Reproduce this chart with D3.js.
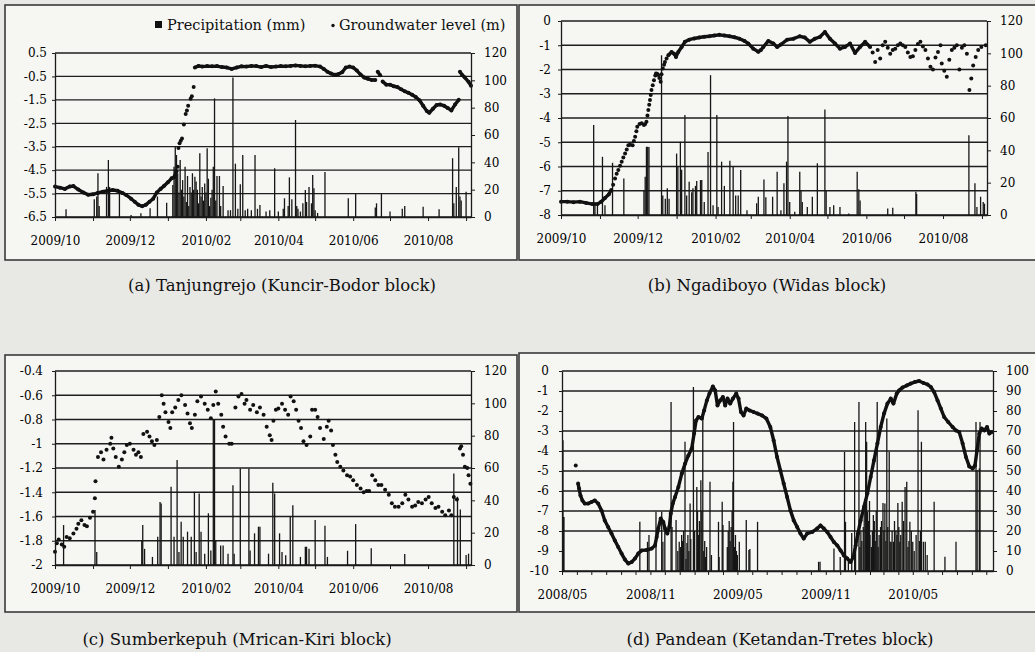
<!DOCTYPE html>
<html>
<head>
<style>
  body { margin: 0; background: #e8e8e5; }
  svg { display: block; font-family: "DejaVu Serif", serif; }
  .axis path, .axis line { stroke: #1a1a1a; }
  .axis text { font-size: 12px; fill: #000; font-family: "DejaVu Serif", serif; }
</style>
<script src="https://cdn.jsdelivr.net/npm/d3@7"></script>
</head>
<body>
<svg id="figure" width="1035" height="652"></svg>
<script>

// ---- data: [day since axis start, value] ----
// null breaks the connecting line (dots only there)
const levelA = [[0,-5.2],[4,-5.25],[8,-5.3],[12,-5.2],[15,-5.18],[19,-5.33],[23,-5.45],[27,-5.55],[31,-5.53],[35,-5.47],
  [39,-5.42],[43,-5.38],[47,-5.35],[51,-5.38],[55,-5.48],[58,-5.56],[62,-5.72],[65,-5.85],[68,-5.98],[71,-6.04],[74,-5.98],
  [77,-5.85],[80,-5.72],[83,-5.45],[86,-5.3],[89,-5.17],[92,-5.02],[95,-4.85],[97,-4.8],[99,-4.55],null,
  [100,-4.35],null,[100.6,-3.55],null,[101.5,-3.35],null,[102.5,-3.25],null,[103.5,-3.15],null,[105,-2.55],null,[106.5,-2.1],null,
  [107.5,-1.95],null,[108.5,-1.75],null,[110.5,-1.45],null,[111.5,-1.35],null,[113,-0.95],null,
  [114,-0.12],[117,-0.05],[120,-0.08],[124,-0.06],[128,-0.07],[132,-0.06],[136,-0.1],[140,-0.12],[144,-0.18],[148,-0.12],
  [152,-0.07],[156,-0.08],[160,-0.05],[164,-0.06],[168,-0.1],[172,-0.05],[176,-0.1],[180,-0.08],[184,-0.06],[188,-0.07],
  [192,-0.05],[196,-0.03],[200,-0.05],[204,-0.07],[208,-0.05],[212,-0.04],[216,-0.08],[219,-0.18],[222,-0.3],[225,-0.38],
  [228,-0.43],[231,-0.4],[234,-0.32],[237,-0.12],[240,-0.08],[243,-0.12],[246,-0.25],[249,-0.42],[252,-0.55],[255,-0.6],
  [258,-0.65],[261,-0.65],null,[263,-0.3],[265,-0.45],null,[267,-0.72],[270,-0.85],[273,-0.85],[276,-0.92],[279,-0.95],
  [282,-1.05],[285,-1.13],[288,-1.2],[291,-1.28],[294,-1.38],[297,-1.52],[300,-1.75],[303,-1.98],[305,-2.05],[308,-1.88],
  [311,-1.72],[314,-1.7],[317,-1.75],[320,-1.85],[323,-1.95],[326,-1.7],[329,-1.5],null,[330,-0.3],[332,-0.45],[334,-0.55],
  [337,-0.73],[339,-0.9]];

const rainA = [[9,5.6],[32,13],[34,15],[35,32],[36,8],[42,22],[43.5,41.7],[44.5,22],[52.5,17],[62,1.5],[70,2.7],[77.5,6.4],
  [83.5,15],[91,10.5],[96,23.4],[97,36.8],[98,51.4],[99,45.4],[100,32],[101,18],[102,41.7],[103,20],[104,27],[105,15],
  [106,36.8],[107,11],[108,30],[109,8],[110,22],[111,18],[112,32],[113,20],[114,29.5],[115,26],[116,20],[117,10],
  [118,46.6],[119,15],[120,22],[121,12],[122,24.6],[123,18],[124,50.3],[125,28],[126,8],[127,14],[128,20],[129,36.8],
  [130,86.8],[131,12],[132,30],[134,30],[135,8],[137,22.7],[141,5],
  [143,5],[145,102],[147,39],[149,6],[151,24],[153,45.4],[155,5],[157,6],[160,5],[163,45.4],[165,6],[167,8.8],[172,4],
  [175,5],[179,35.6],[182,4],[186,6],[187,13.7],[190,8],[191,29],[193,13],[196,71],[197,8],[198,6],[200,4],[202,10],
  [204,19.7],[205,11],[207,22],[209,10],[210,30.7],[211,21],[212,5],[214,3],[220,33],[239,13.7],[245,16.8],[261,7],
  [262,10],[266,16.8],[273,4],[283,6],[285,8],[300,7.5],[313,5.6],[324,43],[325,10],[327,22],[329,51],[330,15],[331,12],
  [335,18.5]];

const levelB = [[0,-7.45],[5,-7.45],[10,-7.47],[15,-7.45],[20,-7.5],[25,-7.55],[29,-7.55],[32,-7.45],[35,-7.3],[38,-7.15],
  [40,-6.97],null,[41.5,-6.75],null,[43,-6.49],null,[44.3,-6.3],null,[45.6,-6.14],null,[47,-5.97],null,[48.3,-5.8],null,
  [49.6,-5.63],null,[51,-5.46],null,[52.3,-5.3],null,[53.6,-5.12],null,[55,-5.1],null,[57,-5.12],null,[58,-4.95],null,
  [59,-4.77],null,[60,-4.55],null,[60.7,-4.36],null,[62.5,-4.25],null,[64.2,-4.22],null,[66,-4.29],null,[67,-4.25],null,
  [68,-4.15],null,[68.8,-3.9],null,[69.5,-3.67],null,[70.2,-3.45],null,[70.8,-3.26],null,[71.4,-3.05],null,[72,-2.85],null,
  [73,-2.65],null,[74,-2.44],null,[75,-2.25],null,[75.6,-2.16],null,[76.5,-2.18],null,[77.4,-2.23],null,[78.3,-2.35],null,
  [79.3,-2.51],null,[80,-2.2],null,[81,-1.96],null,[82,-1.8],null,[82.7,-1.69],null,[84,-1.55],null,
  [85.4,-1.41],[88,-1.28],[90,-1.35],[91.5,-1.48],[93.3,-1.28],[96,-1.07],[98.6,-0.86],[102,-0.77],[106,-0.72],[110,-0.68],
  [114,-0.65],[118,-0.63],[122,-0.6],[126,-0.57],[130,-0.6],[134,-0.63],[138,-0.67],[142,-0.73],[146,-0.82],[149,-0.93],
  [153,-1.14],[157,-1.27],[159,-1.2],[161,-1.07],[165,-0.82],[169,-0.93],[172,-1.07],[175,-0.97],[180,-0.77],[185,-0.73],
  [190,-0.63],[194,-0.68],[198,-0.86],[202,-0.73],[206,-0.66],[210,-0.45],[214,-0.73],[218,-0.93],[222,-1.14],[226,-1.07],
  [230,-0.93],[234,-1.32],[238,-1.07],[242,-0.86],[246,-1.07],null,
  [248,-1.3],null,[250,-1.69],null,[252,-1.2],null,[254,-1.55],null,[256,-1.0],null,[258,-0.86],null,[260,-1.1],null,
  [262,-1.35],null,[264,-1.2],null,[266,-1.14],null,[268,-1.0],null,[270,-0.93],null,[272,-1.0],null,[274,-1.07],null,
  [276,-1.3],null,[278,-1.48],null,[280,-1.45],null,[282,-1.2],null,[284,-0.95],null,[286,-0.86],null,[288,-1.05],null,
  [290,-1.2],null,[292,-1.55],null,[294,-1.89],null,[296,-2.0],null,[298,-1.5],null,[300,-1.28],null,[302,-1.0],null,
  [303,-1.75],null,[305,-2.05],null,[307,-2.3],null,[309,-1.6],null,[311,-1.2],null,[313,-1.1],null,[315,-1.0],null,
  [317,-2.0],null,[319,-1.1],null,[321,-1.0],null,[323,-1.35],null,[325,-2.85],null,[326.5,-2.37],null,[328,-1.83],null,
  [330,-1.48],null,[332,-1.2],null,[334.5,-1.07],null,[338,-1.0]];

const rainB = [[26,55.6],[27,8],[29,6],[33,36],[35,6],[41,32.3],[50,22.6],[66,15],[67,23.7],[68,42.2],[69,42.2],[70,42],
  [80,98.8],[81,12],[83,10],[84.6,16.5],[86,10],[92,38],[93,30],[95,45.3],[96,28],[98.6,61.8],[100,12],[102,20.6],[104,14],
  [105,16.5],[107,18],[108,21],[111,21.6],[112,21.6],[114,8],[117,39],[119,86.5],[121,6],[124,61.8],[125,5],[127.8,33],
  [130,18],[134.4,33.5],[137,30],[139,12],[141,12],[143,27.8],[148,3],[155.7,7.2],[157,11.3],[161.5,22],[163,11],
  [168.4,11.3],[172,26.7],[175,3],[177.4,19.6],[179.5,33],[180.6,61.2],[182,8],[186,2],[190,26.7],[191,15],[192,8],
  [196,5],[200,11.3],[204,32],[210,65.3],[211,15],[214,5],[217,6],[222,5],[229,1],[235.7,26.7],[237,16],[238,9],[260,4],
  [264,4.5],[282.4,14.4],[283,13],[324.6,49.4],[329.4,19.6],[331,5],[333.9,11.3],[336,8],[337,7]];

const levelC = [[0,-1.89],[1.5,-1.82],[3,-1.79],[5.5,-1.83],[7.5,-1.85],[9.5,-1.77],[12,-1.78],[15,-1.74],[17.5,-1.7],
  [19,-1.66],[21.5,-1.63],[24,-1.67],[26,-1.68],[28.5,-1.61],[31,-1.56],[32.5,-1.45],[33,-1.31],[35,-1.11],[37.5,-1.07],
  [39.5,-1.13],[42,-1.05],[45,-1.0],[46,-0.95],[47.5,-1.04],[49.5,-1.11],[52,-1.19],[54.5,-1.13],[56.5,-1.07],[58.5,-1.01],
  [61,-1.0],[64,-1.05],[66,-1.09],[68,-1.07],[70,-1.11],[72,-0.92],[75,-0.9],[77,-0.94],[79,-0.98],[81,-1.01],[83,-0.97],
  [85,-0.78],[87,-0.6],[88.5,-0.67],[90,-0.74],[92.5,-0.82],[94,-0.87],[95.5,-0.74],[98,-0.7],[100.5,-0.64],[103,-0.6],
  [106,-0.68],[108,-0.75],[110,-0.83],[111.5,-0.87],[114,-0.76],[116,-0.65],[119,-0.61],[122,-0.67],[124.5,-0.72],
  [127,-0.79],[129,-0.68],[131,-0.57],[133,-0.67],[135.5,-0.76],[137,-0.86],[139,-0.94],[142,-1.0],[144,-1.0],[147,-0.7],
  [149.5,-0.61],[152,-0.59],[154.5,-0.67],[156,-0.64],[159,-0.72],[161.5,-0.68],[164.5,-0.74],[167,-0.7],[170,-0.76],
  [172.5,-0.86],[175,-0.93],[176.5,-0.97],[178,-0.81],[180,-0.72],[182,-0.71],[185,-0.67],[187.5,-0.72],[190,-0.76],
  [192,-0.61],[194.5,-0.65],[196.5,-0.72],[198.5,-0.81],[200.5,-0.87],[202.5,-0.98],[205,-1.01],[208,-0.94],[209.5,-0.72],
  [212,-0.72],[214,-0.78],[216,-0.87],[219,-0.96],[221.5,-0.86],[223,-0.81],[225,-0.89],[226.5,-1.01],[228.5,-1.09],
  [230,-1.15],[232.5,-1.19],[235,-1.22],[238,-1.26],[240.5,-1.27],[243,-1.3],[246,-1.34],[249,-1.37],[251.5,-1.4],
  [254,-1.39],[256,-1.39],[258.5,-1.26],[261,-1.3],[263.5,-1.34],[266,-1.34],[269,-1.38],[272,-1.42],[274.5,-1.49],
  [277,-1.52],[280,-1.52],[283,-1.49],[285.5,-1.42],[288,-1.46],[291,-1.52],[293.5,-1.51],[296,-1.48],[299,-1.49],
  [302,-1.46],[304.5,-1.44],[307,-1.49],[310,-1.53],[312.5,-1.52],[315.5,-1.56],[318,-1.59],[321,-1.55],[323,-1.59],
  [325,-1.44],[327.5,-1.46],[330,-1.04],[331,-1.02],[332.5,-1.09],[334,-1.19],[336,-1.2],[337,-1.26],[338.5,-1.33]];

const rainC = [[7,24.7],[32.6,34],[34,8],[70.7,15.4],[71.5,24.7],[73,10],[79.4,5],[83.7,17.5],[85.6,39],[86.5,38],
  [94.6,48.4],[97,17.5],[99.5,64.9],[101,8],[102.8,26.7],[104.5,17.5],[108,20.6],[111,17.5],[113.6,45.3],[115,8],
  [117.5,44.3],[119,20.6],[122,7],[125,32],[127,9],[129,90],[130,90],[131,15],[135,12],[137,12],[141,7],[145,49.4],
  [146,7],[151,59.7],[158,59.7],[159,9],[162.6,19.6],[165.8,23.7],[167,23.7],[174,7],[177.5,50.8],[179,44.3],[183,19.6],
  [185,8],[188,6],[191.7,29.8],[193.8,37],[200,5],[204,11.3],[205,11.3],[207,10],[212,27.8],[220,24.3],[222,5],
  [238.4,8.8],[245,25.3],[257.7,10.3],[285,6.8],[325,56.6],[328,42.2],[330.3,34.4],[335,6.2],[337,7]];

const levelD = [[28.6,-4.72],null,[33.5,-5.63],[35.5,-5.88],[38.4,-6.22],[42.5,-6.47],[47.4,-6.63],[54.3,-6.63],
  [61.4,-6.55],[68.3,-6.47],[75.2,-6.63],[82.3,-6.97],[89,-7.47],[96,-7.8],[103,-8.13],[110,-8.47],[117,-8.8],[124,-9.13],
  [131,-9.43],[138,-9.63],[145,-9.55],[151.8,-9.38],[158.7,-9.13],[165.7,-8.97],[176,-8.95],[186.6,-8.88],[193.5,-8.72],
  [197,-8.3],[200.4,-7.88],[205.4,-7.38],[210.9,-7.55],[214.4,-7.88],[219.2,-8.13],[223.4,-7.8],[226.3,-7.13],[230.5,-6.63],
  [235.3,-6.3],[242.2,-5.8],[249.3,-5.13],[256.2,-4.63],[263,-4.22],[270,-3.88],[274.9,-3.13],[279,-2.47],[284,-2.3],
  [291,-2.38],[295.8,-1.97],[301.5,-1.47],[306.9,-1.13],[314,-0.77],[318.8,-0.97],[323.6,-1.72],[329.2,-1.47],[334.8,-1.3],
  [339.6,-1.72],[344.5,-1.38],[350,-1.63],[355.7,-1.38],[362.6,-1.13],[367.4,-1.38],[372.4,-2.05],[377.9,-2.22],
  [383.5,-1.88],[390.4,-1.97],[398.7,-2.05],[407,-2.13],[416.3,-2.22],[425.3,-2.38],[433.6,-2.8],[440.5,-3.47],
  [447.6,-4.3],[454.5,-4.97],[461.4,-5.63],[468.5,-6.3],[475.4,-6.97],[482.3,-7.47],[489.4,-7.8],[496.2,-8.13],
  [503.1,-8.38],[510.2,-8.13],[520.7,-8.05],[531,-7.88],[538,-7.72],[545,-7.88],[552,-8.05],[558.9,-8.3],[565.8,-8.55],
  [572.9,-8.72],[579.8,-8.97],[586.6,-9.22],[593.7,-9.38],[600.6,-9.55],[606.3,-9.3],[611.1,-8.72],[615.9,-8.13],
  [621.5,-7.47],[628.4,-6.8],[635.5,-6.13],[642.4,-5.3],[649.3,-4.47],[656.4,-3.63],[663.3,-2.8],[670.2,-2.13],
  [677.3,-1.63],[684.2,-1.38],[689.8,-1.63],[696.7,-1.13],[701.5,-0.97],[708.6,-0.83],[717.5,-0.72],[725.9,-0.63],
  [734.2,-0.55],[743.2,-0.5],[752.4,-0.6],[760.7,-0.67],[767.6,-0.8],[774.5,-1.05],[781.6,-1.47],[788.5,-1.88],
  [795.4,-2.3],[803.8,-2.55],[812.9,-2.8],[819.8,-2.97],[826.7,-3.05],[833.8,-3.63],[840.7,-4.3],[847.6,-4.77],
  [854.7,-4.88],[859.5,-4.72],[863.7,-3.97],[868.5,-3.13],[873.5,-2.88],[879,-2.97],[884.6,-2.8],[889.4,-3.13],[894.4,-3.05]];

const rainD = [[2,65.4],[3,27],[4,27],[162,24.6],[178,14.6],[181,18],[195.6,29.6],[207.5,29.6],[210,14.6],[214,20],
  [227,84.5],[229,22],[237.4,25.5],[241,10],[244,14.6],[247,12],[249,18],[251,15],[253,20],[256,64.6],[258,6],[260,14],
  [262,18],[264,10],[266.6,33.8],[268,16],[273.5,92],[276,20],[280.6,42],[282,30],[284,18],[286,25],
  [289,45.4],[291,30],[293,80.4],[295,10],[297,15],[299,7],[301,12],[308,44.6],[311,8],[325.7,24.6],[327,7],[333.4,34.6],
  [335,23],[344,12],[346,20],[348,25],[350,15],[352,22],[354,30],
  [355.7,44.6],[357,74.5],[359,12],[361,18],[363,10],[365,8],[369,14.6],[383.5,25.5],[389,10.5],[391,11],[407,24.6],
  [534,4.6],[537,4.6],[566,11.3],
  [579,7],[588,59.6],[590,24.6],[596,5],[603,19],[609,74.5],[611,12],[618,84.5],[620,12],[622,20],[624,15],[627,22],
  [629,30],[632,74.5],[634,64.6],[636,29.6],[638,25],[640,35],[641,18],[644,12],[646,20],[648,28],[650,25],[652,15],
  [654,30],[656,84.5],[658,12],[660,18],[663,22],[665,25],[668,34],[670,20],[672,33.8],[674,15],[676,76.2],[678,22],
  [681,59.6],[683,14.6],[685,14.6],[687,20],[690,14.6],[692,25],[695,20],[697,18],[699,34],[701,22],[703,14.6],[705,18],
  [708,34.6],[711,25],[714,42],[717.5,44.6],[720,12],[722,15],[724,24.6],[727,20],[730,14.6],[733,10],[737,18],[741,80.4],
  [744,15],[746,20],[748,64.6],[752,14.6],[756,14.6],[760,8],[774.5,34.6],[797,7.1],[820,14.6],[861.6,74.5],
  [864,50.4],[868.5,51.3],[870,74.5]];

// tick labels
const levelTicksA = [0.5, -0.5, -1.5, -2.5, -3.5, -4.5, -5.5, -6.5];
const levelTicksB = [0, -1, -2, -3, -4, -5, -6, -7, -8];
const levelTicksC = [-0.4, -0.6, -0.8, -1, -1.2, -1.4, -1.6, -1.8, -2];
const levelTicksD = [0, -1, -2, -3, -4, -5, -6, -7, -8, -9, -10];
const rainTicks120 = [0, 20, 40, 60, 80, 100, 120];
const rainTicks100 = [0, 10, 20, 30, 40, 50, 60, 70, 80, 90, 100];
const monthLabels1 = ["2009/10", "2009/12", "2010/02", "2010/04", "2010/06", "2010/08"];
const monthLabels2 = ["2008/05", "2008/11", "2009/05", "2009/11", "2010/05"];
const captions = ["(a) Tanjungrejo (Kuncir-Bodor block)", "(b) Ngadiboyo (Widas block)",
  "(c) Sumberkepuh (Mrican-Kiri block)", "(d) Pandean (Ketandan-Tretes block)"];
const legendLabels = ["Precipitation (mm)", "Groundwater level (m)"];

// ---- layout of the four panels ----
let panels = [
  { level: levelA, rain: rainA, levelTicks: levelTicksA, rainTicks: rainTicks120, months: monthLabels1, caption: captions[0],
    start: "2009-10-01", end: "2010-09-05", left: 55, right: 471, top: 53, bottom: 217,
    frame: [5, 5, 512, 255], capX: 282, capY: 291, labelGap: 8, joined: true, skipGrid: [] },
  { level: levelB, rain: rainB, levelTicks: levelTicksB, rainTicks: rainTicks120, months: monthLabels1, caption: captions[1],
    start: "2009-10-01", end: "2010-09-05", left: 561, right: 987, top: 21, bottom: 215,
    frame: [519, 5, 530, 255], capX: 767, capY: 291, labelGap: 10, joined: true, skipGrid: [] },
  { level: levelC, rain: rainC, levelTicks: levelTicksC, rainTicks: rainTicks120, months: monthLabels1, caption: captions[2],
    start: "2009-10-01", end: "2010-09-05", left: 55, right: 471, top: 371, bottom: 565,
    frame: [5, 355, 512, 257], capX: 237, capY: 645, labelGap: 12, joined: false, skipGrid: [] },
  { level: levelD, rain: rainD, levelTicks: levelTicksD, rainTicks: rainTicks100, months: monthLabels2, caption: captions[3],
    start: "2008-05-01", end: "2010-10-15", left: 562, right: 993, top: 371, bottom: 571,
    frame: [519, 353, 530, 259], capX: 780, capY: 645, labelGap: 13, joined: true, skipGrid: [-2, -9] }
];

let svg = d3.select("#figure");
let parseDay = d3.timeParse("%Y-%m-%d");
let monthFmt = d3.timeFormat("%Y/%m");

function getScales(p) {
  let start = parseDay(p.start);
  let xScale = d3.scaleTime().domain([start, parseDay(p.end)]).range([p.left, p.right]);
  let yLevel = d3.scaleLinear().domain(d3.extent(p.levelTicks)).range([p.bottom, p.top]);
  let yRain = d3.scaleLinear().domain(d3.extent(p.rainTicks)).range([p.bottom, p.top]);
  let dayToDate = d => new Date(start.getTime() + d * 864e5);
  return { xScale, yLevel, yRain, dayToDate };
}

function drawFrame(p) {
  let [x, y, w, h] = p.frame;
  svg.append("rect").attr("x", x).attr("y", y).attr("width", w).attr("height", h)
    .attr("fill", "#f6f6f3").attr("stroke", "#3a3a3a").attr("stroke-width", 1.6);
  svg.append("text").attr("x", p.capX).attr("y", p.capY)
    .attr("text-anchor", "middle").attr("font-size", 16.5).attr("fill", "#111")
    .text(p.caption);
}

function drawGrid(p, s) {
  svg.append("g").selectAll("line")
    .data(p.levelTicks.filter(t => !p.skipGrid.includes(t)))
    .enter().append("line")
    .attr("x1", p.left).attr("x2", p.right)
    .attr("y1", d => s.yLevel(d)).attr("y2", d => s.yLevel(d))
    .attr("stroke", "#1e1e1e").attr("stroke-width", 1.3);
}

function drawRain(p, s) {
  svg.append("g").selectAll("line")
    .data(p.rain)
    .enter().append("line")
    .attr("x1", d => s.xScale(s.dayToDate(d[0]))).attr("x2", d => s.xScale(s.dayToDate(d[0])))
    .attr("y1", s.yRain(0)).attr("y2", d => s.yRain(d[1]))
    .attr("stroke", "#161616").attr("stroke-width", 1.3);
}

function drawLevel(p, s) {
  let px = d => s.xScale(s.dayToDate(d[0]));
  let py = d => s.yLevel(d[1]);
  if (p.joined) {
    let line = d3.line().defined(d => d !== null).x(px).y(py);
    svg.append("path").datum(p.level)
      .attr("d", line).attr("fill", "none")
      .attr("stroke", "#111").attr("stroke-width", 3.4).attr("stroke-linejoin", "round");
  }
  svg.append("g").selectAll("circle")
    .data(p.level.filter(d => d !== null))
    .enter().append("circle")
    .attr("cx", px).attr("cy", py).attr("r", 2)
    .attr("fill", "#111");
}

function drawAxes(p, s) {
  let axisL = d3.axisLeft(s.yLevel).tickValues(p.levelTicks).tickSize(3).tickSizeOuter(0)
    .tickPadding(p.labelGap - 3).tickFormat(d => String(d));
  svg.append("g").attr("class", "axis").attr("transform", `translate(${p.left},0)`).call(axisL);

  let axisR = d3.axisRight(s.yRain).tickValues(p.rainTicks).tickSize(4).tickSizeOuter(0)
    .tickPadding(9).tickFormat(d => String(d));
  svg.append("g").attr("class", "axis").attr("transform", `translate(${p.right},0)`).call(axisR);

  let axisX = d3.axisBottom(s.xScale).ticks(d3.timeMonth.every(1)).tickSize(4).tickSizeOuter(0)
    .tickPadding(15).tickFormat(d => p.months.includes(monthFmt(d)) ? monthFmt(d) : "");
  svg.append("g").attr("class", "axis").attr("transform", `translate(0,${p.bottom})`).call(axisX);

  svg.selectAll(".axis .domain").attr("stroke-width", 1.3);
}

function drawLegend() {
  let g = svg.append("g").attr("font-size", 14.5).attr("fill", "#111");
  g.append("rect").attr("x", 155).attr("y", 21).attr("width", 7).attr("height", 7).attr("fill", "#111");
  g.append("text").attr("x", 167).attr("y", 30).text(legendLabels[0]);
  g.append("circle").attr("cx", 333).attr("cy", 25.5).attr("r", 1.7).attr("fill", "#111");
  g.append("text").attr("x", 339).attr("y", 30).text(legendLabels[1]);
}

panels.forEach(p => {
  let scales = getScales(p);
  drawFrame(p);
  drawGrid(p, scales);
  drawRain(p, scales);
  drawLevel(p, scales);
  drawAxes(p, scales);
});
drawLegend();

</script>
</body>
</html>
